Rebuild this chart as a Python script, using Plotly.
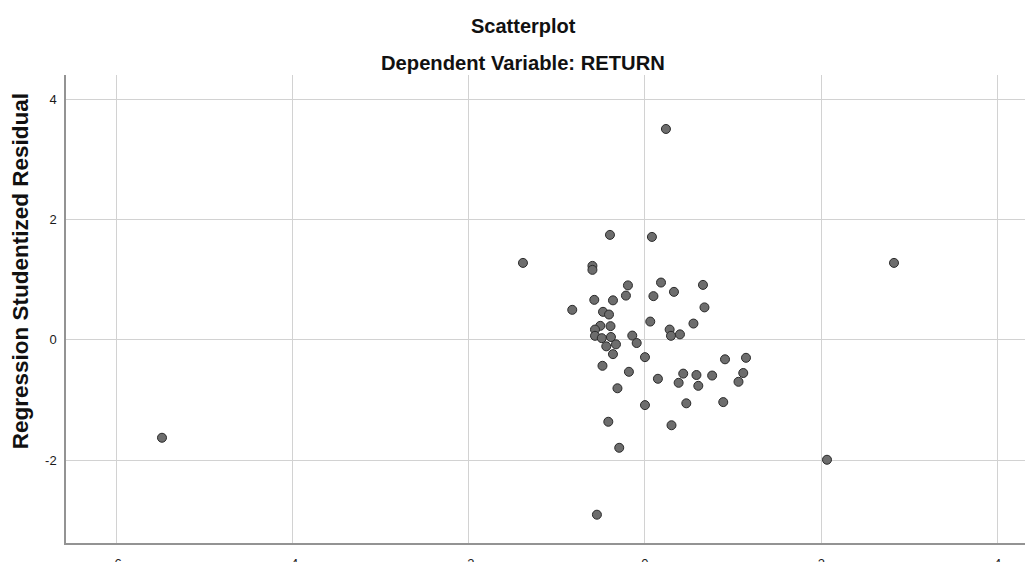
import plotly.graph_objects as go

# Regression Standardized Predicted Value
pred_value = [
    -5.479, -1.384, 0.238, 2.825, 2.065, -0.545, -0.397, 0.079, -0.596, -0.596,
    -0.193, 0.182, 0.658, 0.329, 0.096, -0.216, -0.575, -0.363, 0.675, -0.825,
    -0.476, -0.408, 0.060, 0.550, -0.507, -0.391, -0.567, 0.280, 0.397, 0.295,
    -0.567, -0.490, -0.386, -0.144, -0.439, -0.329, -0.094, -0.363, 0.000, 0.908,
    1.146, -0.482, -0.182, 0.147, 0.434, 0.584, 0.762, 1.115, 0.382, 0.605,
    1.061, -0.312, 0.000, 0.469, 0.888, -0.416, 0.301, -0.292,
]
# Regression Studentized Residual
stud_resid = [
    -1.629, 1.280, 3.508, 1.280, -1.995, -2.909, 1.746, 1.712, 1.230, 1.164,
    0.906, 0.953, 0.914, 0.798, 0.727, 0.736, 0.665, 0.657, 0.540, 0.499,
    0.466, 0.421, 0.304, 0.271, 0.233, 0.228, 0.171, 0.171, 0.091, 0.067,
    0.067, 0.028, 0.047, 0.071, -0.108, -0.075, -0.053, -0.238, -0.288, -0.324,
    -0.299, -0.432, -0.532, -0.648, -0.562, -0.585, -0.594, -0.552, -0.715, -0.765,
    -0.698, -0.806, -1.086, -1.056, -1.036, -1.363, -1.421, -1.796,
]
x_ticks = [-6, -4, -2, 0, 2, 4]
x_tick_labels = ["-6", "-4", "-2", "0", "2", "4"]
y_ticks = [-2, 0, 2, 4]
y_tick_labels = ["-2", "0", "2", "4"]

FONT = "Liberation Sans, Arial, sans-serif"

fig = go.Figure(go.Scatter(
    x=pred_value, y=stud_resid, mode="markers",
    marker=dict(size=9, color="#6d6d6d", line=dict(color="#2a2a2a", width=1)),
    hoverinfo="x+y",
))

axis_common = dict(
    showgrid=True, gridcolor="#d2d2d2", gridwidth=1,
    zeroline=False, showline=True, linecolor="#939393", linewidth=1.5,
    ticks="", automargin=False,
    tickfont=dict(family=FONT, size=13, color="#1a1a1a"),
)

# page shows an ~8px body offset, so the figure is sized/margined to land on the reference grid
PLOT_H = 468.0
fig.update_layout(
    width=1025, height=554,
    margin=dict(l=58, r=0, t=67, b=19),
    paper_bgcolor="white", plot_bgcolor="white",
    showlegend=False,
    xaxis=dict(range=[-6.568, 4.402], tickvals=x_ticks, ticktext=x_tick_labels,
               ticklabelstandoff=8, **axis_common),
    yaxis=dict(range=[-3.380, 4.406], tickvals=y_ticks, ticktext=y_tick_labels,
               ticklabelstandoff=5, **axis_common),
    annotations=[
        dict(text="<b>Scatterplot</b>", xref="paper", yref="paper",
             x=(523 - 66) / 967, y=(543.3 - 26.5) / PLOT_H, xanchor="center", yanchor="middle",
             showarrow=False, font=dict(family=FONT, size=20, color="#111111")),
        dict(text="<b>Dependent Variable: RETURN</b>", xref="paper", yref="paper",
             x=(523 - 66) / 967, y=(543.3 - 63) / PLOT_H, xanchor="center", yanchor="middle",
             showarrow=False, font=dict(family=FONT, size=20.2, color="#111111")),
        dict(text="<b>Regression Studentized Residual</b>", xref="paper", yref="paper",
             x=(20 - 66) / 967, y=(543.3 - 271.5) / PLOT_H, xanchor="center", yanchor="middle",
             textangle=-90, showarrow=False, font=dict(family=FONT, size=22.5, color="#111111")),
    ],
)

fig.write_html("out.html")
